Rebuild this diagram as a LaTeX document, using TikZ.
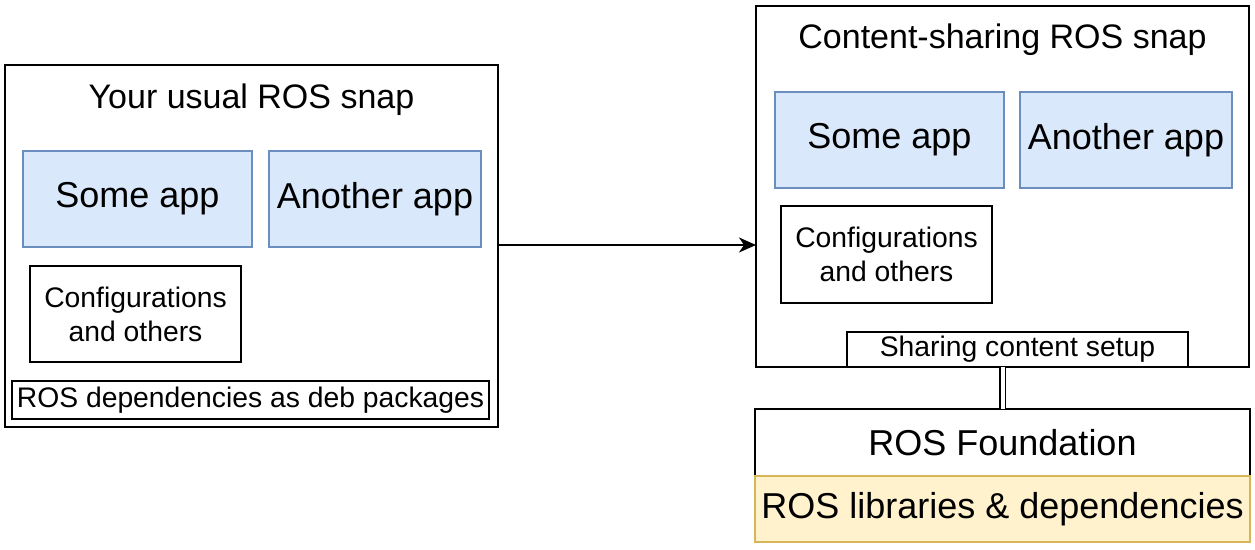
\documentclass[tikz,border=0pt]{standalone}
\usepackage{fontspec}
\setmainfont{Liberation Sans}
\usetikzlibrary{arrows.meta}
\definecolor{appfill}{HTML}{DAE8FC}
\definecolor{appline}{HTML}{6C8EBF}
\definecolor{libfill}{HTML}{FFF2CC}
\definecolor{libline}{HTML}{D6B656}
\tikzset{
  box/.style={draw=black, line width=1.5pt, fill=white, inner sep=0pt, outer sep=0pt, align=center},
  appbox/.style={draw=appline, line width=1.2pt, fill=appfill, inner sep=0pt, outer sep=0pt, font=\fontsize{36}{43}\selectfont},
  smallbox/.style={box, font=\fontsize{28.3}{34}\selectfont},
  bigbox/.style={box, font=\fontsize{36}{43}\selectfont},
  titletext/.style={anchor=base, inner sep=0pt, font=\fontsize{34}{40}\selectfont},
  libbox/.style={draw=libline, line width=1.2pt, fill=libfill, inner sep=0pt, outer sep=0pt, font=\fontsize{36}{43}\selectfont},
}
\begin{document}
\begin{tikzpicture}[x=1pt,y=-1pt]
\useasboundingbox (0,0) rectangle (1255,549);
% left snap
\node[box, minimum width=493pt, minimum height=362pt] (left) at (251.5,246) {};
\node[titletext] (lefttitle) at (251.5,108) {Your usual ROS snap};
\node[appbox, minimum width=229pt, minimum height=96pt] (lsome) at (137.5,199) {Some app};
\node[appbox, minimum width=212pt, minimum height=96pt] (lanother) at (375,199) {Another app};
\node[smallbox, minimum width=211pt, minimum height=96pt] (lconf) at (135.5,314) {Configurations\\and others};
\node[smallbox, minimum width=477pt, minimum height=38pt] (ldeps) at (250.5,400) {ROS dependencies as deb packages};
% right snap
\node[box, minimum width=493pt, minimum height=361pt] (right) at (1002.5,186.5) {};
\node[titletext] (righttitle) at (1002.5,48) {Content-sharing ROS snap};
\node[appbox, minimum width=229pt, minimum height=96pt] (rsome) at (889.5,140) {Some app};
\node[appbox, minimum width=212pt, minimum height=96pt] (ranother) at (1126,140) {Another app};
\node[smallbox, minimum width=211pt, minimum height=97pt] (rconf) at (886.5,254.5) {Configurations\\and others};
\node[smallbox, minimum width=341pt, minimum height=35pt] (share) at (1017.5,349.5) {Sharing content setup};
% foundation
\node[bigbox, minimum width=495pt, minimum height=67pt] (found) at (1002.5,442.5) {ROS Foundation};
\node[libbox, minimum width=495pt, minimum height=66pt] (libs) at (1002.5,509) {ROS libraries \& dependencies};
% connectors
\coordinate (arrstart) at (498,245);
\draw[line width=1.5pt, -{Stealth[length=17pt,width=15pt,inset=5pt]}] (arrstart) -- (arrstart -| right.west);
\draw[double, double distance=4pt, line width=1.2pt] (found.north) -- (found.north |- share.south);
\end{tikzpicture}
\end{document}
